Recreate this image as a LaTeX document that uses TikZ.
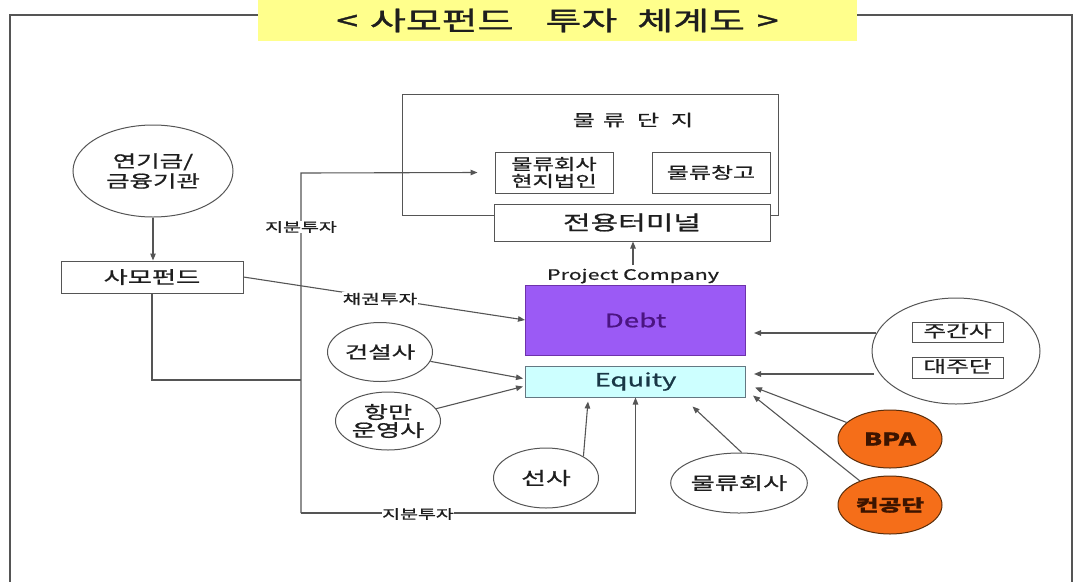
\documentclass[tikz,border=0pt]{standalone}
\usepackage{fontspec}
\setmainfont{Noto Sans CJK KR}[FakeStretch=1.5, FakeBold=0.9]
\newfontfamily\ttlfont{Noto Sans CJK KR}[FakeStretch=1.5, FakeBold=1.4]
\usetikzlibrary{shapes.geometric,arrows.meta,calc}
\definecolor{ttl}{RGB}{255,255,140}
\definecolor{ln}{RGB}{85,85,85}
\definecolor{txt}{RGB}{30,30,30}
\definecolor{dbt}{RGB}{155,90,245}
\definecolor{dbtd}{RGB}{110,50,170}
\definecolor{dbtt}{RGB}{75,20,130}
\definecolor{eqf}{RGB}{205,255,255}
\definecolor{eqd}{RGB}{100,120,130}
\definecolor{eqt}{RGB}{25,55,70}
\definecolor{org}{RGB}{245,110,25}
\definecolor{orgd}{RGB}{90,45,10}
\definecolor{orgt}{RGB}{60,20,0}
\newcommand{\fs}[1]{\fontsize{#1}{#1}\selectfont}
\begin{document}
\begin{tikzpicture}[x=1pt,y=-1pt,
  box/.style={draw=ln, line width=1pt, fill=white, inner sep=0pt, align=center, text=txt},
  smallbox/.style={box, minimum width=91pt, text height=12pt, text depth=2pt, font=\fs{16.5}},
  oval/.style={ellipse, draw=ln, line width=1pt, fill=white, inner sep=0pt, align=center, text=txt},
  orgoval/.style={ellipse, draw=orgd, line width=1pt, fill=org, inner sep=0pt, align=center, text=orgt},
  conn/.style={draw=ln, line width=1.1pt},
  arr/.style={conn, -{Triangle[length=7pt,width=5.5pt]}},
  lbl/.style={fill=white, inner sep=0.5pt, text=txt, font=\fs{13}}]
\useasboundingbox (0,0) rectangle (1075,582);
% frame
\draw[ln, line width=1.5pt] (258,15) -- (10,15) -- (10,582);
\draw[ln, line width=1.5pt] (857,15) -- (1072,15) -- (1072,582);
\node[fill=ttl, minimum width=599pt, minimum height=41pt, inner sep=0pt, text=txt, font=\ttlfont\fs{26}] (title) at (557.5,20.5) {<\hspace{12pt}사모펀드\hspace{32pt}투자\hspace{20pt}체계도\hspace{12pt}>};
% logistics complex
\node[box, minimum width=376pt, minimum height=121pt] (complex) at (590,154.5) {};
\node[text=txt, font=\fs{16}] (complexlbl) at (633,120) {물\hspace{8pt}류\hspace{12pt}단\hspace{12pt}지};
\node[box, minimum width=118pt, minimum height=41pt, font=\fontsize{15.5}{17}\selectfont] (corp) at (554,172.5) {물류회사\\현지법인};
\node[box, minimum width=118pt, minimum height=41pt, font=\fs{16}] (wh) at (711,172.5) {물류창고};
\node[box, minimum width=276pt, minimum height=37pt, font=\fs{20}] (term) at (632,222.5) {전용터미널};
% left side
\node[oval, minimum width=160pt, minimum height=92pt, font=\fontsize{17}{20}\selectfont] (pension) at (153,171) {연기금/\\금융기관};
\node[box, minimum width=182pt, minimum height=32pt, font=\fs{17.5}] (pef) at (152,277) {사모펀드};
% project company
\node[text=txt, font=\fs{14.3}] (pc) at (633,276) {Project Company};
\node[draw=dbtd, fill=dbt, line width=1pt, minimum width=220pt, minimum height=70pt, inner sep=0pt, text=dbtt, font=\fs{18.5}] (debt) at (635.5,320) {Debt};
\node[draw=eqd, fill=eqf, line width=1pt, minimum width=220pt, minimum height=31pt, inner sep=0pt, text=eqt, font=\fs{18.3}] (equity) at (635.5,381.5) {Equity};
% investors
\node[oval, minimum width=105pt, minimum height=59pt, font=\fs{17}] (const) at (380,352) {건설사};
\node[oval, minimum width=105pt, minimum height=58pt, font=\fontsize{17.5}{18}\selectfont] (port) at (388,421) {항만\\운영사};
\node[oval, minimum width=105pt, minimum height=60pt, font=\fs{18}] (ship) at (546,478) {선사};
\node[oval, minimum width=118pt, minimum height=60pt, font=\fs{17.5}] (logi) at (739,483) {물류회사};
\node[oval, minimum width=168pt, minimum height=106pt] (banks) at (956,351) {};
\node[smallbox, minimum height=20pt] (jg) at (957.5,332) {주간사};
\node[smallbox, minimum height=21pt] (dj) at (957.5,367.5) {대주단};
\node[orgoval, minimum width=104pt, minimum height=58pt, font=\bfseries\fs{17.5}] (bpa) at (890,439) {BPA};
\node[orgoval, minimum width=104pt, minimum height=58pt, font=\bfseries\fs{16.5}] (kg) at (890,505) {컨공단};
% connectors
\coordinate (ctop) at (301,173);
\coordinate (cbot) at (301,513);
\coordinate (j1) at (301,380);
\draw[arr] (pension.south) -- (pension.south |- pef.north);
\draw[conn] (pef.south) |- (j1);
\draw[arr] (cbot) -- (ctop) -- ([xshift=-17pt]corp.west);
\draw[arr] (cbot) -| (equity.south);
\node[lbl] (l1) at (301,227) {지분투자};
\node[lbl] (l2) at (418,514) {지분투자};
\draw[arr] (pef.east) -- (debt.west);
\node[lbl, font=\fs{13.5}] (l3) at (380,299) {채권투자};
\draw[arr] (pc.north) -- (pc.north |- term.south);
\draw[arr] (const) -- ([yshift=3pt,xshift=-2pt]equity.west);
\draw[arr] (port) -- ([yshift=-5pt,xshift=-2pt]equity.west);
\draw[arr] (ship.30) -- ([xshift=-47.5pt,yshift=-4pt]equity.south);
\draw[arr] (logi.85) -- ([xshift=57pt,yshift=-9pt]equity.south);
\coordinate (b1) at (876,333);
\coordinate (b2) at (874,374);
\draw[arr] (b1) -- ([xshift=8pt]b1 -| debt.east);
\draw[arr] (b2) -- ([xshift=8pt]b2 -| equity.east);
\draw[arr] (bpa) -- ([xshift=9pt,yshift=-6pt]equity.east);
\draw[arr] (kg) -- ([xshift=7pt,yshift=-14pt]equity.east);
\end{tikzpicture}
\end{document}
